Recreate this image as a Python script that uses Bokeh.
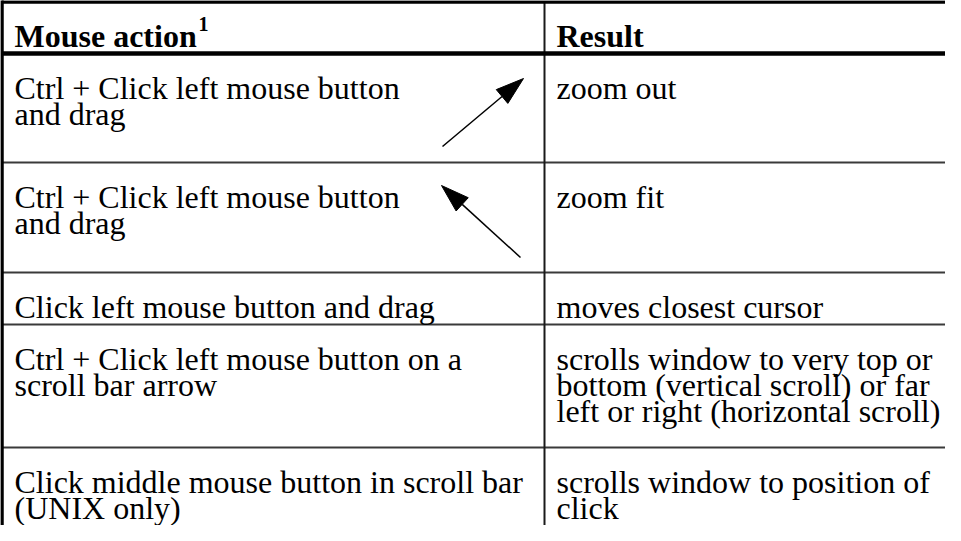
import numpy as np
from bokeh.plotting import figure
from bokeh.models import Range1d
from bokeh.core.properties import value
from bokeh.embed import file_html
from bokeh.resources import INLINE

# ---------------- table content ----------------
header_left = "Mouse action"
header_note = "1"
header_right = "Result"

actions = [
    ["Ctrl + Click left mouse button", "and drag"],
    ["Ctrl + Click left mouse button", "and drag"],
    ["Click left mouse button and drag"],
    ["Ctrl + Click left mouse button on a", "scroll bar arrow"],
    ["Click middle mouse button in scroll bar", "(UNIX only)"],
]
results = [
    ["zoom out"],
    ["zoom fit"],
    ["moves closest cursor"],
    ["scrolls window to very top or", "bottom (vertical scroll) or far",
     "left or right (horizontal scroll)"],
    ["scrolls window to position of", "click"],
]
# drag direction drawn in the first column of each row (None = no arrow)
drag_arrows = ["NE", "NW", None, None, None]

# ---------------- layout (page pixels) ----------------
FONT = value("Liberation Serif")
FS = "32px"
LEAD = 26
TABLE_TOP = 9.5
HEADER_BOTTOM = 61
ROW_TOPS = [61, 170, 280, 332, 455]
TABLE_BOTTOM = 545
TABLE_LEFT = 9.5
TABLE_RIGHT = 965
COL_DIV = 552
TEXT_X = [22, 564]
FIRST_BASE = 34
HEADER_BASE = 43
ARROW_X0, ARROW_X1 = 450, 531
ARROW_DY0, ARROW_DY1 = 25, 93
HEAD_L, HEAD_W = 28, 18

p = figure(width=945, height=525, x_range=Range1d(8, 953), y_range=Range1d(533, 8),
           output_backend="svg", toolbar_location=None,
           x_axis_location=None, y_axis_location=None,
           min_border=0, min_border_left=0, min_border_right=0,
           min_border_top=0, min_border_bottom=0)
p.grid.visible = False
p.outline_line_color = None
p.background_fill_color = "white"
p.border_fill_color = "white"

# ---------------- rules ----------------
inner = ROW_TOPS[1:]
p.segment(x0=[TABLE_LEFT] * len(inner), y0=inner, x1=[TABLE_RIGHT] * len(inner), y1=inner,
          line_color="#3a3a3a", line_width=2)
p.segment(x0=[COL_DIV], y0=[TABLE_TOP], x1=[COL_DIV], y1=[TABLE_BOTTOM],
          line_color="#1a1a1a", line_width=2)
p.segment(x0=[TABLE_LEFT, TABLE_LEFT], y0=[TABLE_TOP, HEADER_BOTTOM],
          x1=[TABLE_RIGHT, TABLE_RIGHT], y1=[TABLE_TOP, HEADER_BOTTOM],
          line_color="black", line_width=[3.5, 4.5])
p.segment(x0=[TABLE_LEFT], y0=[TABLE_TOP - 2], x1=[TABLE_LEFT], y1=[TABLE_BOTTOM],
          line_color="black", line_width=3.5)

# ---------------- header ----------------
p.text(x=TEXT_X, y=[HEADER_BASE, HEADER_BASE], text=[header_left, header_right],
       text_font=FONT, text_font_size=FS, text_font_style="bold",
       text_baseline="alphabetic", text_align="left", text_color="black")
p.text(x=[TEXT_X[0] + 184], y=[HEADER_BASE - 12], text=[header_note],
       text_font=FONT, text_font_size="20px", text_font_style="bold",
       text_baseline="alphabetic", text_align="left", text_color="black")

# ---------------- body ----------------
xs, ys, ts = [], [], []
for r, (a, res) in enumerate(zip(actions, results)):
    for col, lines in enumerate((a, res)):
        for k, line in enumerate(lines):
            xs.append(TEXT_X[col])
            ys.append(ROW_TOPS[r] + FIRST_BASE + k * LEAD)
            ts.append(line)
p.text(x=xs, y=ys, text=ts, text_font=FONT, text_font_size=FS,
       text_baseline="alphabetic", text_align="left", text_color="black")

# ---------------- drag arrows ----------------
sx0, sy0, sx1, sy1, hx, hy = [], [], [], [], [], []
for r, d in enumerate(drag_arrows):
    if d is None:
        continue
    top = ROW_TOPS[r]
    if d == "NE":
        tail = np.array([ARROW_X0, top + ARROW_DY1], float)
        tip = np.array([ARROW_X1, top + ARROW_DY0], float)
    else:
        tail = np.array([ARROW_X1 - 3, top + ARROW_DY1 + 2], float)
        tip = np.array([ARROW_X0 - 1, top + ARROW_DY0 - 2], float)
    u = (tip - tail) / np.linalg.norm(tip - tail)
    n = np.array([-u[1], u[0]])
    base = tip - HEAD_L * u
    sx0.append(tail[0]); sy0.append(tail[1]); sx1.append(base[0]); sy1.append(base[1])
    pts = [tip, base + n * HEAD_W / 2, base - n * HEAD_W / 2]
    hx.append([q[0] for q in pts]); hy.append([q[1] for q in pts])
p.segment(x0=sx0, y0=sy0, x1=sx1, y1=sy1, line_color="black", line_width=1.5)
p.patches(xs=hx, ys=hy, fill_color="black", line_color="black", line_width=1)

open("out.html", "w").write(file_html(p, INLINE))
